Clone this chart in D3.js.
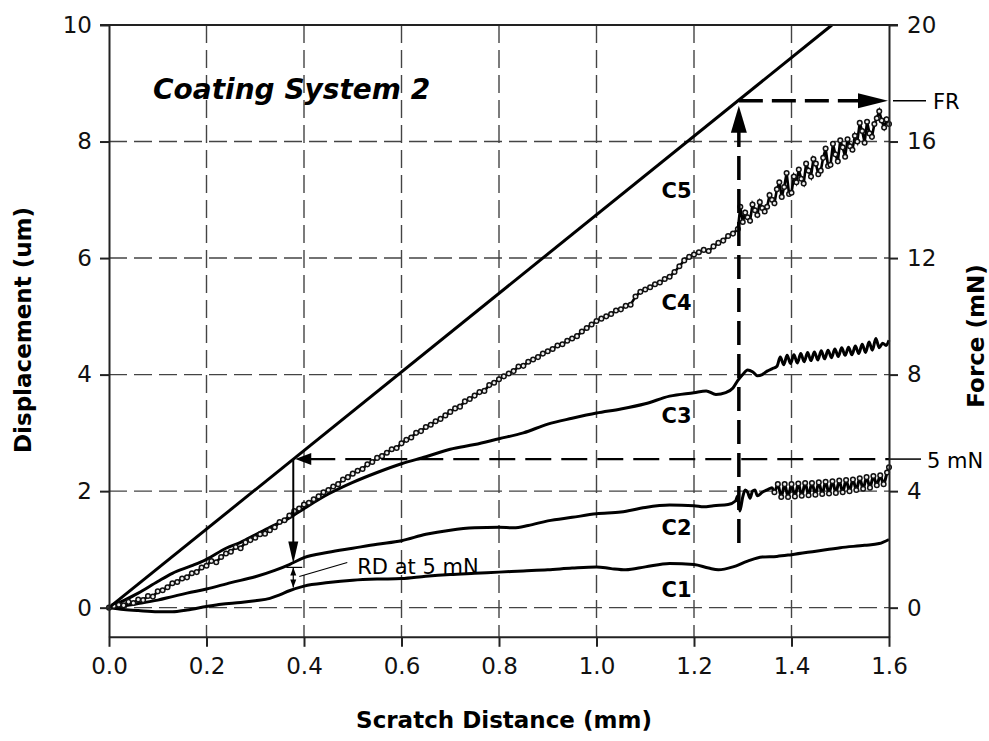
<!DOCTYPE html>
<html>
<head>
<meta charset="utf-8">
<script src="https://cdn.jsdelivr.net/npm/d3@7"></script>
<style>
body { margin: 0; background: #fff; }
text { font-family: "DejaVu Sans", Verdana, sans-serif; }
</style>
</head>
<body>
<div class="chart"></div>
<script>
// ticks
const xTicks = [0, 0.2, 0.4, 0.6, 0.8, 1.0, 1.2, 1.4, 1.6];
const dispTicks = [0, 2, 4, 6, 8, 10];
const forceTicks = [0, 4, 8, 12, 16, 20];

// curves, [scratch distance (mm), displacement (um)]
const c1 = [[0,0],[0.03,-0.03],[0.06,-0.05],[0.1,-0.07],[0.13,-0.07],[0.16,-0.04],[0.2,0.02],[0.23,0.06],
  [0.27,0.09],[0.3,0.12],[0.33,0.16],[0.35,0.22],[0.37,0.29],[0.4,0.37],[0.45,0.43],[0.5,0.47],[0.55,0.49],
  [0.6,0.5],[0.65,0.54],[0.7,0.57],[0.75,0.59],[0.8,0.61],[0.85,0.63],[0.9,0.65],[0.95,0.68],[1.0,0.7],
  [1.03,0.67],[1.06,0.65],[1.1,0.7],[1.15,0.76],[1.2,0.74],[1.23,0.68],[1.25,0.65],[1.28,0.7],[1.31,0.8],
  [1.34,0.87],[1.37,0.88],[1.4,0.91],[1.45,0.97],[1.5,1.03],[1.55,1.07],[1.58,1.1],[1.6,1.17]];

const c2 = [[0,0],[0.03,0.03],[0.06,0.07],[0.1,0.13],[0.13,0.19],[0.16,0.25],[0.2,0.32],[0.25,0.43],
  [0.3,0.53],[0.34,0.64],[0.37,0.74],[0.4,0.86],[0.45,0.95],[0.5,1.02],[0.55,1.09],[0.6,1.15],[0.65,1.26],
  [0.7,1.33],[0.75,1.37],[0.8,1.38],[0.83,1.37],[0.86,1.41],[0.9,1.49],[0.95,1.55],[1.0,1.61],[1.05,1.64],
  [1.1,1.72],[1.15,1.76],[1.2,1.75],[1.22,1.73],[1.24,1.75],[1.27,1.77],[1.285,1.83],[1.29,1.92],
  [1.294,1.66],[1.3,1.9],[1.305,2.02],[1.31,1.98],[1.315,1.88],[1.32,2.0],[1.325,2.02],[1.33,1.92],
  [1.34,1.98],[1.35,2.02],[1.36,2.06],
  [1.365,1.98],[1.372,2.12],[1.379,1.9],[1.386,2.12],[1.393,1.9],[1.4,2.12],[1.407,1.91],[1.414,2.13],
  [1.421,1.92],[1.428,2.14],[1.435,1.93],[1.442,2.14],[1.449,1.94],[1.456,2.15],[1.463,1.95],[1.47,2.16],
  [1.477,1.96],[1.484,2.17],[1.491,1.97],[1.498,2.18],[1.505,1.98],[1.512,2.19],[1.519,2.0],[1.526,2.2],
  [1.533,2.02],[1.54,2.22],[1.547,2.04],[1.554,2.24],[1.561,2.06],[1.568,2.26],[1.575,2.1],[1.582,2.27],
  [1.589,2.12],[1.596,2.32],[1.6,2.41]];

const c3 = [[0,0],[0.03,0.12],[0.06,0.25],[0.1,0.45],[0.13,0.59],[0.17,0.72],[0.2,0.83],[0.24,1.02],
  [0.27,1.12],[0.3,1.25],[0.33,1.38],[0.37,1.54],[0.4,1.7],[0.45,1.95],[0.5,2.15],[0.55,2.32],[0.6,2.47],
  [0.65,2.59],[0.7,2.72],[0.75,2.8],[0.8,2.9],[0.85,3.0],[0.9,3.15],[0.95,3.25],[1.0,3.34],[1.05,3.41],
  [1.1,3.5],[1.15,3.63],[1.2,3.69],[1.225,3.72],[1.245,3.66],[1.265,3.69],[1.28,3.77],[1.29,3.9],
  [1.3,4.0],[1.31,4.08],[1.32,4.05],[1.33,3.98],[1.34,4.0],[1.35,4.06],[1.36,4.1],
  [1.37,4.14],[1.377,4.3],[1.384,4.17],[1.391,4.33],[1.398,4.19],[1.405,4.34],[1.412,4.2],[1.419,4.36],
  [1.426,4.22],[1.433,4.38],[1.44,4.24],[1.447,4.39],[1.454,4.25],[1.461,4.41],[1.468,4.27],[1.475,4.42],
  [1.482,4.29],[1.489,4.44],[1.496,4.31],[1.503,4.46],[1.51,4.33],[1.517,4.47],[1.524,4.34],[1.531,4.49],
  [1.538,4.36],[1.545,4.52],[1.552,4.38],[1.559,4.56],[1.566,4.42],[1.573,4.62],[1.58,4.46],[1.587,4.54],
  [1.594,4.5],[1.6,4.59]];

const c4 = [[0,0],[0.01,0.03],[0.02,0.05],[0.03,0.04],[0.04,0.1],[0.05,0.08],[0.06,0.14],[0.07,0.13],
  [0.08,0.2],[0.09,0.19],[0.1,0.28],[0.11,0.3],[0.12,0.35],[0.13,0.42],[0.14,0.44],[0.15,0.5],[0.16,0.52],
  [0.17,0.59],[0.18,0.61],[0.19,0.69],[0.2,0.72],[0.21,0.8],[0.22,0.78],[0.23,0.87],[0.24,0.93],[0.25,0.96],
  [0.26,1.04],[0.27,1.02],[0.28,1.12],[0.29,1.16],[0.3,1.2],[0.31,1.26],[0.32,1.27],[0.33,1.33],[0.34,1.38],
  [0.35,1.47],[0.36,1.5],[0.37,1.58],[0.38,1.66],[0.39,1.7],[0.4,1.77],[0.41,1.8],[0.42,1.86],[0.43,1.91],
  [0.44,1.98],[0.45,2.02],[0.46,2.08],[0.47,2.12],[0.48,2.2],[0.49,2.24],[0.5,2.3],[0.51,2.35],[0.52,2.38],
  [0.53,2.46],[0.54,2.5],[0.55,2.57],[0.56,2.6],[0.57,2.66],[0.58,2.72],[0.59,2.74],[0.6,2.82],[0.61,2.88],
  [0.62,2.92],[0.63,3.0],[0.64,3.03],[0.65,3.1],[0.66,3.14],[0.67,3.2],[0.68,3.24],[0.69,3.3],[0.7,3.36],
  [0.71,3.42],[0.72,3.45],[0.73,3.54],[0.74,3.58],[0.75,3.64],[0.76,3.7],[0.77,3.72],[0.78,3.82],[0.79,3.86],
  [0.8,3.92],[0.81,3.97],[0.82,4.02],[0.83,4.06],[0.84,4.14],[0.85,4.15],[0.86,4.22],[0.87,4.26],[0.88,4.3],
  [0.89,4.36],[0.9,4.4],[0.91,4.44],[0.92,4.5],[0.93,4.52],[0.94,4.58],[0.95,4.62],[0.96,4.66],[0.97,4.74],
  [0.98,4.8],[0.99,4.86],[1.0,4.92],[1.01,4.96],[1.02,5.0],[1.03,5.04],[1.04,5.1],[1.05,5.12],[1.06,5.18],
  [1.07,5.2],[1.08,5.34],[1.09,5.42],[1.1,5.46],[1.11,5.5],[1.12,5.55],[1.13,5.58],[1.14,5.64],[1.15,5.68],
  [1.16,5.76],[1.17,5.86],[1.18,5.96],[1.19,6.02],[1.2,6.06],[1.21,6.1],[1.22,6.14],[1.23,6.12],[1.24,6.2],
  [1.25,6.26],[1.26,6.3],[1.27,6.38],[1.28,6.42],[1.29,6.5],[1.295,6.88],[1.3,6.62],[1.31,6.7],[1.32,6.92],
  [1.33,6.74],[1.34,6.86],[1.35,6.88],[1.36,7.0],[1.37,7.18],[1.38,7.05],[1.39,7.46],[1.4,7.12],[1.41,7.3],
  [1.42,7.36],[1.43,7.62],[1.44,7.4],[1.45,7.62],[1.46,7.5],[1.47,7.88],[1.48,7.6],[1.49,7.78],[1.5,8.02],
  [1.51,7.74],[1.52,7.92],[1.53,8.1],[1.54,8.32],[1.55,7.98],[1.56,8.14],[1.57,8.3],[1.58,8.52],[1.59,8.24],
  [1.6,8.3]];
// extra C4 readings in the scattered end section
const c4Late = [[1.305,6.78],[1.315,6.64],[1.325,6.82],[1.335,6.96],[1.345,6.8],[1.355,7.08],[1.365,6.94],
  [1.375,7.3],[1.385,7.22],[1.395,7.1],[1.405,7.4],[1.415,7.52],[1.425,7.28],[1.435,7.5],[1.445,7.7],
  [1.455,7.44],[1.465,7.72],[1.475,7.58],[1.485,7.96],[1.495,7.66],[1.505,7.9],[1.515,8.04],[1.525,7.86],
  [1.535,8.0],[1.545,8.18],[1.555,8.34],[1.565,8.08],[1.575,8.4],[1.585,8.36],[1.595,8.38]];

// applied normal force, [mm, mN]
const c5 = [[0, 0], [1.483, 20]];

const curveLabels = [
  {name: "C5", x: 1.195, y: 7.03},
  {name: "C4", x: 1.195, y: 5.11},
  {name: "C3", x: 1.195, y: 3.17},
  {name: "C2", x: 1.195, y: 1.25},
  {name: "C1", x: 1.195, y: 0.18}
];

// annotations
const fiveMN = 5.1;      // mN level of the 5 mN line
const rdX = 0.378;       // mm
const rdTop = 0.76, rdBottom = 0.31;   // um, C2 and C1 at rdX
const frX = 1.292;       // mm
const frForce = 17.4;    // mN
const frBottom = 1.11;   // um

const W = 989, H = 741;
const svg = d3.select(".chart").append("svg")
    .attr("width", W)
    .attr("height", H);

const x = d3.scaleLinear().domain([0, 1.6]).range([109, 889]);
const y = d3.scaleLinear().domain([-0.5, 10]).range([636.8, 25]);
const yF = d3.scaleLinear().domain([-1, 20]).range([636.8, 25]);

// grid
svg.append("g").selectAll("line")
    .data(xTicks.filter(d => d > 0 && d < 1.6))
    .enter().append("line")
    .attr("x1", d => x(d)).attr("x2", d => x(d))
    .attr("y1", y(10)).attr("y2", y(-0.5))
    .attr("stroke", "#444").attr("stroke-width", 1.4)
    .attr("stroke-dasharray", "18,7");
svg.append("g").selectAll("line")
    .data(dispTicks.filter(d => d < 10))
    .enter().append("line")
    .attr("x1", x(0)).attr("x2", x(1.6))
    .attr("y1", d => y(d)).attr("y2", d => y(d))
    .attr("stroke", "#444").attr("stroke-width", 1.4)
    .attr("stroke-dasharray", "18,7");

// curves
const line = d3.line().x(d => x(d[0])).y(d => y(d[1]));
const smooth = d3.line().x(d => x(d[0])).y(d => y(d[1])).curve(d3.curveMonotoneX);
const c4All = c4.concat(c4Late).sort((a, b) => a[0] - b[0]);

svg.append("path").datum(c1).attr("d", smooth)
    .attr("fill", "none").attr("stroke", "#000").attr("stroke-width", 3);
svg.append("path").datum(c2).attr("d", smooth)
    .attr("fill", "none").attr("stroke", "#000").attr("stroke-width", 3);
svg.append("path").datum(c3).attr("d", smooth)
    .attr("fill", "none").attr("stroke", "#000").attr("stroke-width", 3);
svg.append("path").datum(c4All).attr("d", line)
    .attr("fill", "none").attr("stroke", "#000").attr("stroke-width", 2.6);

svg.append("g").selectAll("circle")
    .data(c4All.concat(c2.filter(d => d[0] > 1.36)))
    .enter().append("circle")
    .attr("cx", d => x(d[0]))
    .attr("cy", d => y(d[1]))
    .attr("r", 2.3)
    .attr("fill", "#eee")
    .attr("stroke", "#111")
    .attr("stroke-width", 1.5);

svg.append("path").datum(c5)
    .attr("d", d3.line().x(d => x(d[0])).y(d => yF(d[1])))
    .attr("fill", "none").attr("stroke", "#000").attr("stroke-width", 3);

// annotation helpers
function arrowHead(tx, ty, dir, len, half) {
    let p;
    if (dir === "up") p = [[tx, ty], [tx - half, ty + len], [tx + half, ty + len]];
    if (dir === "down") p = [[tx, ty], [tx - half, ty - len], [tx + half, ty - len]];
    if (dir === "left") p = [[tx, ty], [tx + len, ty - half], [tx + len, ty + half]];
    if (dir === "right") p = [[tx, ty], [tx - len, ty - half], [tx - len, ty + half]];
    svg.append("polygon").attr("points", p.map(d => d.join(",")).join(" ")).attr("fill", "#000");
}

// 5 mN line
const y5 = yF(fiveMN);
svg.append("line")
    .attr("x1", x(rdX) + 16).attr("x2", x(1.6))
    .attr("y1", y5).attr("y2", y5)
    .attr("stroke", "#000").attr("stroke-width", 2.4)
    .attr("stroke-dasharray", "26,10");
svg.append("line")
    .attr("x1", x(1.6)).attr("x2", x(1.6) + 32)
    .attr("y1", y5).attr("y2", y5)
    .attr("stroke", "#000").attr("stroke-width", 1.5);
arrowHead(x(rdX) + 2, y5, "left", 16, 6);
svg.append("text").attr("x", x(1.6) + 38).attr("y", y5 + 9)
    .attr("font-size", 21).text("5 mN");

// vertical arrow down to C2
svg.append("line")
    .attr("x1", x(rdX)).attr("x2", x(rdX))
    .attr("y1", y5).attr("y2", y(rdTop) - 20)
    .attr("stroke", "#000").attr("stroke-width", 2);
arrowHead(x(rdX), y(rdTop), "down", 22, 5);

// RD double arrow
svg.append("line")
    .attr("x1", x(rdX)).attr("x2", x(rdX))
    .attr("y1", y(rdTop) + 4).attr("y2", y(rdBottom) - 2)
    .attr("stroke", "#000").attr("stroke-width", 1.2);
arrowHead(x(rdX), y(rdTop) + 4, "up", 8, 3);
arrowHead(x(rdX), y(rdBottom) - 2, "down", 8, 3);
svg.append("line")
    .attr("x1", x(rdX) - 7).attr("x2", x(rdX) + 9)
    .attr("y1", y(rdTop) + 4).attr("y2", y(rdTop) + 4)
    .attr("stroke", "#000").attr("stroke-width", 1.2);
svg.append("line")
    .attr("x1", x(rdX) + 6).attr("x2", x(rdX) + 54)
    .attr("y1", y((rdTop + rdBottom) / 2)).attr("y2", y((rdTop + rdBottom) / 2) - 14)
    .attr("stroke", "#000").attr("stroke-width", 1.2);
svg.append("text").attr("x", x(rdX) + 64).attr("y", y((rdTop + rdBottom) / 2) - 2)
    .attr("font-size", 21).text("RD at 5 mN");

// FR arrows
const yFR = yF(frForce);
svg.append("line")
    .attr("x1", x(frX)).attr("x2", x(frX))
    .attr("y1", y(frBottom)).attr("y2", yFR + 28)
    .attr("stroke", "#000").attr("stroke-width", 3.5)
    .attr("stroke-dasharray", "24,9");
arrowHead(x(frX), yFR + 5, "up", 27, 8);
svg.append("line")
    .attr("x1", x(frX)).attr("x2", x(1.6) - 28)
    .attr("y1", yFR).attr("y2", yFR)
    .attr("stroke", "#000").attr("stroke-width", 3.5)
    .attr("stroke-dasharray", "24,9");
arrowHead(x(1.6) - 1, yFR, "right", 30, 7.5);
svg.append("line")
    .attr("x1", x(1.6) + 4).attr("x2", x(1.6) + 37)
    .attr("y1", yFR).attr("y2", yFR)
    .attr("stroke", "#000").attr("stroke-width", 1.5);
svg.append("text").attr("x", x(1.6) + 44).attr("y", yFR + 8)
    .attr("font-size", 21).text("FR");

// curve labels
svg.append("g").selectAll("text")
    .data(curveLabels)
    .enter().append("text")
    .attr("x", d => x(d.x))
    .attr("y", d => y(d.y))
    .attr("text-anchor", "end")
    .attr("font-size", 21)
    .attr("font-weight", "bold")
    .text(d => d.name);

// axes
const leftAxis = svg.append("g")
    .attr("transform", `translate(${x(0)},0)`)
    .call(d3.axisLeft(y).tickValues(dispTicks).tickSize(9).tickSizeOuter(0).tickPadding(8));
const rightAxis = svg.append("g")
    .attr("transform", `translate(${x(1.6)},0)`)
    .call(d3.axisRight(yF).tickValues(forceTicks).tickSize(9).tickSizeOuter(0).tickPadding(9));
const bottomAxis = svg.append("g")
    .attr("transform", `translate(0,${y(-0.5)})`)
    .call(d3.axisBottom(x).tickValues(xTicks).tickFormat(d3.format(".1f")).tickSize(10).tickSizeOuter(0).tickPadding(11));
[leftAxis, rightAxis, bottomAxis].forEach(g => {
    g.selectAll("path, line").attr("stroke", "#222").attr("stroke-width", 2);
    g.selectAll("text").attr("font-size", 23).attr("fill", "#111")
        .style("font-family", '"DejaVu Sans", Verdana, sans-serif');
});
svg.append("line")
    .attr("x1", x(0) - 9).attr("x2", x(1.6) + 9)
    .attr("y1", y(10)).attr("y2", y(10))
    .attr("stroke", "#222").attr("stroke-width", 2);

// titles
svg.append("text")
    .attr("x", 153).attr("y", 99)
    .attr("font-size", 28).attr("font-weight", "bold").attr("font-style", "italic")
    .text("Coating System 2");
svg.append("text")
    .attr("x", 504).attr("y", 728)
    .attr("text-anchor", "middle")
    .attr("font-size", 23).attr("font-weight", "bold")
    .text("Scratch Distance (mm)");
svg.append("text")
    .attr("transform", "translate(31,330) rotate(-90)")
    .attr("text-anchor", "middle")
    .attr("font-size", 23).attr("font-weight", "bold")
    .text("Displacement (um)");
svg.append("text")
    .attr("transform", "translate(984,336) rotate(-90)")
    .attr("text-anchor", "middle")
    .attr("font-size", 23).attr("font-weight", "bold")
    .text("Force (mN)");
</script>
</body>
</html>
